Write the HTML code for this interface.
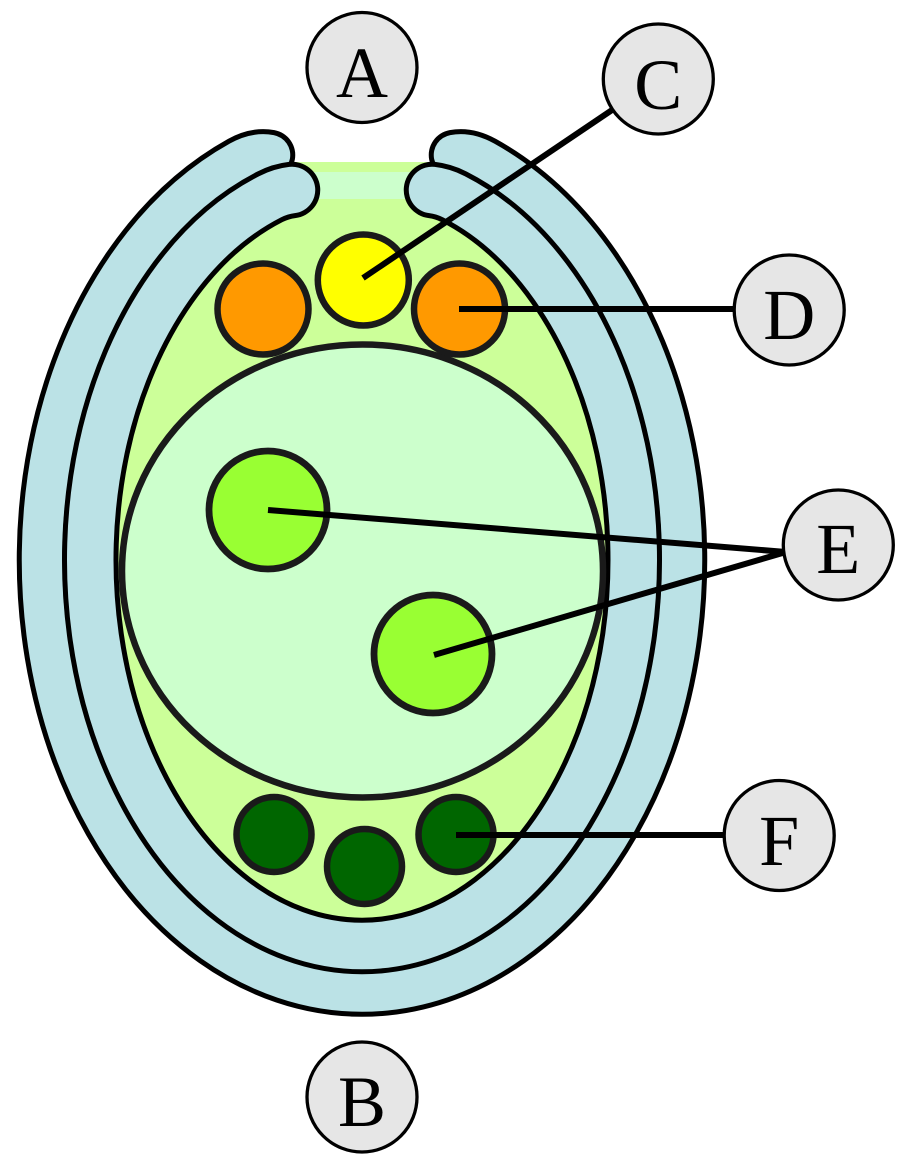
<!DOCTYPE html>
<html>
<head>
<meta charset="utf-8">
<style>
  html, body { margin: 0; padding: 0; background: #ffffff; }
  svg { display: block; }
  text { font-family: "Liberation Serif", "DejaVu Serif", serif; font-size: 72px; fill: #000; }
</style>
</head>
<body>
<svg width="910" height="1165" viewBox="0 0 910 1165" xmlns="http://www.w3.org/2000/svg">
  <rect x="0" y="0" width="910" height="1165" fill="#ffffff"/>

  <!-- nucellus / embryo sac green region -->
  <ellipse cx="362" cy="560" rx="247" ry="370" fill="#ccff99"/>
  <rect x="284" y="162" width="158" height="70" fill="#ccff99"/>
  <rect x="284" y="172" width="158" height="27" fill="#ccffcc"/>

  <!-- outer integument -->
  <path d="M 270 155 Q 255.7 152.4 240 161.1 A 320 431.5 0 1 0 484 161.1 Q 468.3 152.4 454 155"
        fill="none" stroke="#000" stroke-width="50.5" stroke-linecap="round" stroke-linejoin="round"/>
  <path d="M 270 155 Q 255.7 152.4 240 161.1 A 320 431.5 0 1 0 484 161.1 Q 468.3 152.4 454 155"
        fill="none" stroke="#bbe2e6" stroke-width="40.5" stroke-linecap="round" stroke-linejoin="round"/>

  <!-- inner integument -->
  <path d="M 292 190 Q 280.7 191.3 270 196.8 A 271.75 386 0 1 0 454 196.8 Q 443.3 191.3 432 190"
        fill="none" stroke="#000" stroke-width="56.5" stroke-linecap="round" stroke-linejoin="round"/>
  <path d="M 292 190 Q 280.7 191.3 270 196.8 A 271.75 386 0 1 0 454 196.8 Q 443.3 191.3 432 190"
        fill="none" stroke="#bbe2e6" stroke-width="46.5" stroke-linecap="round" stroke-linejoin="round"/>

  <!-- central cell -->
  <ellipse cx="362.5" cy="571" rx="240.5" ry="226.5" fill="#ccffcc" stroke="#1a1a1a" stroke-width="6.5"/>

  <!-- synergids and egg cell -->
  <circle cx="263" cy="309" r="45.5" fill="#ff9900" stroke="#1a1a1a" stroke-width="6.5"/>
  <circle cx="459.5" cy="309" r="45.5" fill="#ff9900" stroke="#1a1a1a" stroke-width="6.5"/>
  <circle cx="363.3" cy="280" r="45.5" fill="#ffff00" stroke="#1a1a1a" stroke-width="6.5"/>

  <!-- polar nuclei -->
  <circle cx="268" cy="510" r="59" fill="#99ff33" stroke="#1a1a1a" stroke-width="6.8"/>
  <circle cx="433" cy="654" r="59" fill="#99ff33" stroke="#1a1a1a" stroke-width="6.8"/>

  <!-- antipodal cells -->
  <circle cx="274" cy="834.5" r="37.5" fill="#006600" stroke="#1a1a1a" stroke-width="6.5"/>
  <circle cx="364.5" cy="866.5" r="37.5" fill="#006600" stroke="#1a1a1a" stroke-width="6.5"/>
  <circle cx="456" cy="834.5" r="37.5" fill="#006600" stroke="#1a1a1a" stroke-width="6.5"/>

  <!-- connector lines -->
  <g stroke="#000" stroke-width="6" stroke-linecap="butt" fill="none">
    <line x1="363" y1="278" x2="615" y2="108"/>
    <line x1="459" y1="309" x2="736" y2="309"/>
    <line x1="268" y1="510" x2="786" y2="552"/>
    <line x1="434" y1="655" x2="786" y2="552"/>
    <line x1="456" y1="835" x2="726" y2="835"/>
  </g>

  <!-- labels -->
  <g fill="#e6e6e6" stroke="#000" stroke-width="3.3">
    <circle cx="362" cy="67.5" r="55"/>
    <circle cx="362" cy="1097" r="55"/>
    <circle cx="658.3" cy="79" r="55"/>
    <circle cx="789.2" cy="310" r="55"/>
    <circle cx="838.3" cy="545" r="55"/>
    <circle cx="779.2" cy="835.5" r="55"/>
  </g>
  <g text-anchor="middle">
    <text x="362" y="97">A</text>
    <text x="362" y="1126">B</text>
    <text x="658.3" y="109">C</text>
    <text x="789.2" y="339">D</text>
    <text x="838.3" y="573">E</text>
    <text x="779.2" y="865">F</text>
  </g>
</svg>
</body>
</html>
